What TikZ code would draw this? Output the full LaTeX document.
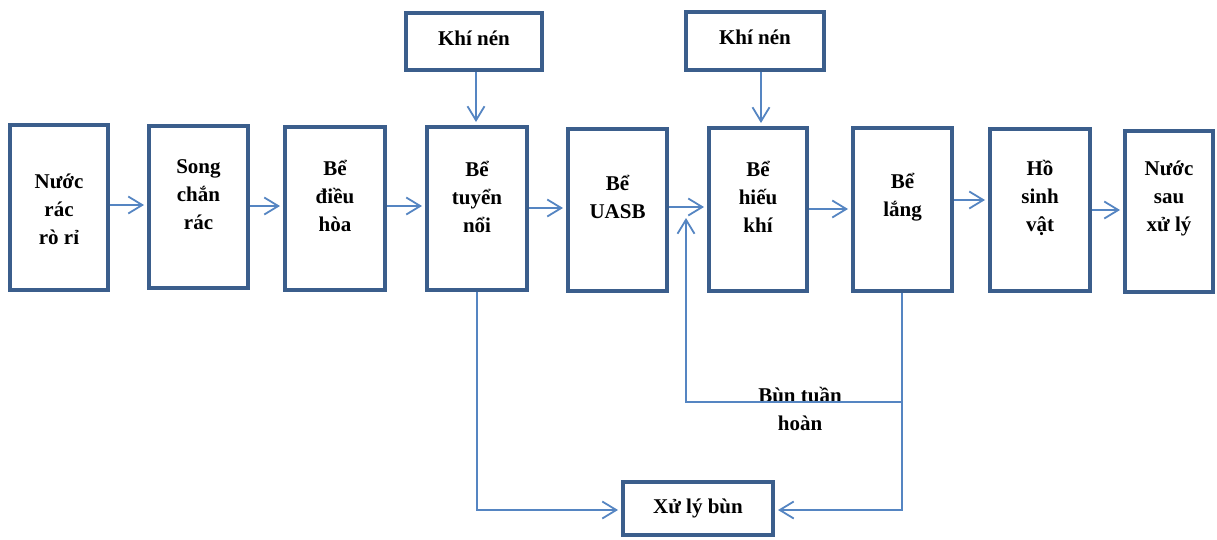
\documentclass[tikz,border=0pt]{standalone}
\usepackage{fontspec}
\setmainfont{Liberation Serif}
\usetikzlibrary{arrows.meta}
\definecolor{boxblue}{HTML}{3B5E8C}
\definecolor{flowblue}{HTML}{5585C2}
\begin{document}
\begin{tikzpicture}[x=1pt,y=-1pt,
  tank/.style={draw=boxblue,line width=4pt,rectangle,inner sep=0pt,fill=white},
  lbl/.style={align=center,font=\fontsize{21}{28}\selectfont\bfseries,inner sep=0pt},
  flow/.style={draw=flowblue,line width=1.8pt,-{Straight Barb[length=14pt,width=17pt,line width=1.8pt]},shorten >=3pt},
  pipe/.style={draw=flowblue,line width=1.8pt}]
\useasboundingbox (0,0) rectangle (1217,539);

% process tanks
\node[tank,minimum width=98,minimum height=165] (n1) at (59,207.5) {};
\node[tank,minimum width=99,minimum height=162] (n2) at (198.5,207) {};
\node[tank,minimum width=100,minimum height=163] (n3) at (335,208.5) {};
\node[tank,minimum width=100,minimum height=163] (n4) at (477,208.5) {};
\node[tank,minimum width=99,minimum height=162] (n5) at (617.5,210) {};
\node[tank,minimum width=98,minimum height=163] (n6) at (758,209.5) {};
\node[tank,minimum width=99,minimum height=163] (n7) at (902.5,209.5) {};
\node[tank,minimum width=100,minimum height=162] (n8) at (1040,210) {};
\node[tank,minimum width=88,minimum height=161] (n9) at (1169,211.5) {};
\node[tank,minimum width=136,minimum height=57] (k1) at (474,41.5) {};
\node[tank,minimum width=138,minimum height=58] (k2) at (755,41) {};
\node[tank,minimum width=150,minimum height=53] (xb) at (698,508.5) {};

% labels
\node[lbl] (t1) at (59,209) {Nước\\rác\\ rò rỉ};
\node[lbl] (t2) at (198.5,195) {Song\\chắn\\rác};
\node[lbl] (t3) at (335,196) {Bể\\điều\\hòa};
\node[lbl] (t4) at (477,197) {Bể\\tuyển\\nổi};
\node[lbl] (t5) at (617.5,197) {Bể\\UASB};
\node[lbl] (t6) at (758,197) {Bể\\hiếu\\khí};
\node[lbl] (t7) at (902.5,197) {Bể\\lắng};
\node[lbl] (t8) at (1040,198) {Hồ\\sinh\\vật};
\node[lbl] (t9) at (1169,198) {Nước\\sau\\xử lý};
\node[lbl] (tk1) at (474,38) {Khí nén};
\node[lbl] (tk2) at (755,37) {Khí nén};
\node[lbl] (txb) at (698,508) {Xử lý bùn};
\node[lbl] (tr) at (800,409) {Bùn tuần\\hoàn};

% main line
\draw[flow] (n1.east |- 0,205) -- (n2.west |- 0,205);
\draw[flow] (n2.east |- 0,206) -- (n3.west |- 0,206);
\draw[flow] (n3.east |- 0,206) -- (n4.west |- 0,206);
\draw[flow] (n4.east |- 0,208) -- (n5.west |- 0,208);
\draw[flow] (n5.east |- 0,207) -- (n6.west |- 0,207);
\draw[flow] (n6.east |- 0,209) -- (n7.west |- 0,209);
\draw[flow] (n7.east |- 0,200) -- (n8.west |- 0,200);
\draw[flow] (n8.east |- 0,210) -- (n9.west |- 0,210);

% compressed air
\draw[flow] (k1.south -| 476,0) -- (n4.north -| 476,0);
\draw[flow] (k2.south -| 761,0) -- (n6.north -| 761,0);

% sludge lines
\coordinate (r1) at (902,402);
\coordinate (r2) at (686,402);
\coordinate (r3) at (686,218);
\coordinate (r4) at (902,510);
\coordinate (s1) at (477,510);
\draw[flow] (n7.south -| r1) -- (r4) -- (xb.east |- r4);
\draw[flow,shorten >=0pt] (r1) -- (r2) -- (r3);
\draw[flow] (n4.south -| s1) -- (s1) -- (xb.west |- s1);
\end{tikzpicture}
\end{document}
